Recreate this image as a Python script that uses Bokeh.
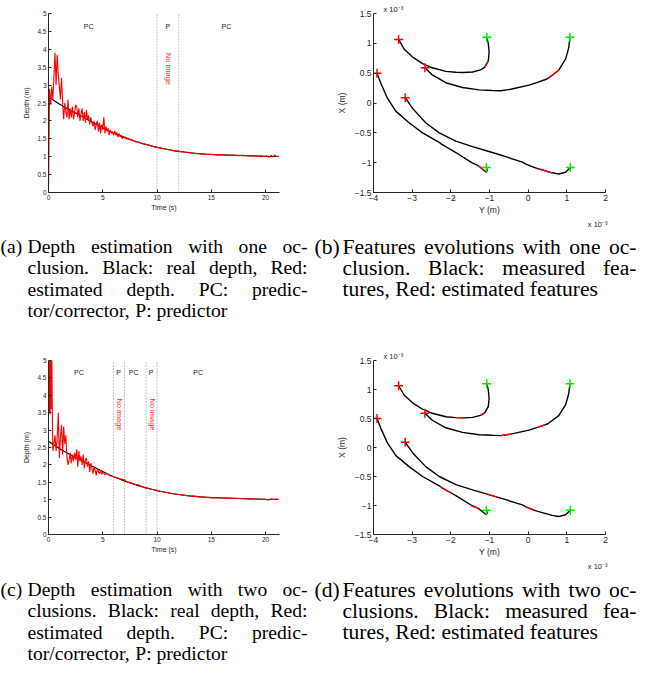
import math
from bokeh.plotting import figure
from bokeh.layouts import column, row
from bokeh.models import Range1d, FixedTicker, Title
from bokeh.core.properties import value
from bokeh.embed import file_html
from bokeh.resources import INLINE

# ---------------- data ----------------
# real depth (black), shared by (a) and (c)
t_real = [0, 0.5, 1, 1.5, 2, 2.5, 3, 3.5, 4, 4.5, 5, 5.5, 6, 6.5, 7, 7.5, 8, 8.5, 9, 9.5,
          10, 10.5, 11, 11.5, 12, 12.5, 13, 13.5, 14, 14.5, 15, 16, 17, 18, 19, 20, 21.2]
d_real = [2.68, 2.57, 2.47, 2.38, 2.30, 2.22, 2.14, 2.05, 1.97, 1.89, 1.81, 1.73, 1.66, 1.60,
          1.54, 1.48, 1.43, 1.38, 1.34, 1.30, 1.26, 1.23, 1.20, 1.17, 1.15, 1.13, 1.11, 1.095,
          1.08, 1.07, 1.06, 1.05, 1.04, 1.03, 1.02, 1.01, 1.005]

# estimated depth (red), one occlusion (a)
t_est_a = [0.0, 0.1, 0.2, 0.3, 0.4, 0.5, 0.6, 0.7, 0.8, 0.9, 1.0, 1.1, 1.2, 1.3, 1.4, 1.5, 1.6,
           1.7, 1.8, 1.9, 2.0, 2.1, 2.2, 2.3, 2.4, 2.5, 2.6, 2.7, 2.8, 2.9, 3.0, 3.1, 3.2, 3.3,
           3.4, 3.5, 3.6, 3.7, 3.8, 3.9, 4.0, 4.1, 4.2, 4.3, 4.4, 4.5, 4.6, 4.7, 4.8, 4.9, 5.0,
           5.1, 5.2, 5.3, 5.4, 5.5, 5.6, 5.7, 5.8, 5.9, 6.0, 6.1, 6.2, 6.3, 6.4, 6.5, 6.6, 6.7,
           6.8, 6.9, 7.0, 7.1, 7.2, 7.3, 7.4, 7.5, 7.6, 7.7, 7.8, 7.9, 8.0,
           8.3, 8.6, 9.0, 9.4, 9.8, 10.2, 10.6, 11.0, 11.5, 12.0, 12.5, 13.0, 13.5, 14.0, 14.5,
           15.0, 15.5, 16.0, 16.5, 17.0, 17.5, 18.0, 18.5, 19.0, 19.3, 19.6, 19.9, 20.1, 20.3,
           20.5, 20.7, 20.9, 21.0, 21.2]
d_est_a = [0.0, 2.9, 2.45, 2.95, 2.6, 3.25, 3.9, 3.0, 3.85, 3.3, 2.95, 2.6, 3.2, 2.5, 2.05, 2.5,
           2.25, 2.1, 2.6, 2.05, 2.35, 2.1, 2.4, 2.05, 2.2, 2.45, 2.4, 2.1, 2.35, 2.0, 2.2, 2.35,
           2.0, 2.25, 1.95, 2.3, 2.05, 2.15, 1.9, 2.1, 1.95, 1.85, 2.0, 1.75, 1.9, 2.0, 1.7,
           1.95, 1.65, 1.9, 1.75, 2.1, 1.65, 1.85, 1.7, 1.8, 1.6, 1.75, 1.65, 1.7, 1.6, 1.72,
           1.6, 1.68, 1.55, 1.65, 1.55, 1.6, 1.5, 1.58, 1.52, 1.55, 1.48, 1.53, 1.47, 1.5, 1.46,
           1.48, 1.44, 1.45, 1.42,
           1.41, 1.37, 1.345, 1.31, 1.275, 1.25, 1.225, 1.20, 1.17, 1.15, 1.13, 1.115, 1.09,
           1.085, 1.07, 1.065, 1.05, 1.055, 1.04, 1.045, 1.03, 1.04, 1.02, 1.03, 1.01, 1.025,
           1.0, 1.03, 0.98, 1.04, 0.99, 1.05, 1.0, 1.02]

# estimated depth (red), two occlusions (c)
t_est_c = [0.0, 0.05, 0.1, 0.15, 0.2, 0.25, 0.3, 0.35, 0.4, 0.5, 0.6, 0.7, 0.8, 0.9, 1.0, 1.1,
           1.2, 1.3, 1.4, 1.5, 1.6, 1.7, 1.8, 1.9, 2.0, 2.1, 2.2, 2.3, 2.4, 2.5, 2.6, 2.7, 2.8,
           2.9, 3.0, 3.1, 3.2, 3.3, 3.4, 3.5, 3.6, 3.7, 3.8, 3.9, 4.0, 4.1, 4.2, 4.3, 4.4, 4.5,
           4.6, 4.7, 4.8, 4.9, 5.0, 5.2, 5.4, 5.6, 5.8, 6.0, 6.3, 6.6, 7.0, 7.2, 7.5, 8.0, 8.3,
           8.6, 9.0, 9.5, 10.0, 10.5, 11.0, 11.5, 12.0, 13.0, 14.0, 15.0, 15.5, 16.0, 16.5,
           17.0, 17.5, 18.0, 18.5, 19.0, 19.5, 20.0, 20.3, 20.5, 20.7, 21.0, 21.2]
d_est_c = [5.6, 3.5, 5.6, 3.45, 5.6, 3.6, 5.6, 3.5, 2.4, 2.6, 2.85, 2.4, 2.75, 3.5, 2.2, 2.8,
           3.15, 2.3, 3.1, 2.6, 2.85, 2.2, 2.0, 2.15, 2.35, 2.05, 2.3, 2.1, 2.35, 2.15, 2.45,
           1.95, 2.4, 2.1, 2.25, 2.0, 2.3, 1.9, 2.15, 2.2, 1.95, 2.1, 1.8, 2.05, 1.9, 1.75,
           1.95, 1.85, 1.7, 1.9, 1.8, 1.75, 1.85, 1.72, 1.8, 1.72, 1.76, 1.7, 1.68, 1.66, 1.63,
           1.6, 1.57, 1.52, 1.49, 1.44, 1.43, 1.38, 1.34, 1.30, 1.265, 1.23, 1.20, 1.17, 1.15,
           1.11, 1.08, 1.06, 1.055, 1.05, 1.045, 1.04, 1.035, 1.03, 1.025, 1.02, 1.015, 1.01,
           0.99, 1.03, 1.01, 1.02, 1.01]

# occlusion (predictor only) boundaries
occ_a = [10, 12]
occ_c = [6, 7, 9, 10]
phase_a = [("PC", 3.7), ("P", 11.0), ("PC", 16.4)]
phase_c = [("PC", 2.8), ("P", 6.45), ("PC", 7.85), ("P", 9.45), ("PC", 13.8)]
noimg_a = [11.05]
noimg_c = [6.55, 9.6]

# feature trajectories (units of 1e-3 m): horizontal = Y, vertical = X
traj_y = [
    [-3.35, -3.21, -2.99, -2.73, -2.48, -2.13, -1.87, -1.66, -1.44, -1.23, -1.12, -1.03, -1.01, -1.03, -1.07],
    [-2.67, -2.48, -2.13, -1.70, -1.27, -0.93, -0.71, -0.45, 0.02, 0.26, 0.43, 0.51, 0.79, 0.97, 1.05, 1.08],
    [-3.91, -3.81, -3.64, -3.42, -3.08, -2.73, -2.30, -2.24, -2.00, -1.87, -1.53, -1.46, -1.31, -1.27, -1.14, -1.08, -1.06, -1.08],
    [-3.18, -2.99, -2.65, -2.30, -1.87, -1.44, -1.08, -0.80, -0.58, -0.15, -0.07, 0.15, 0.25, 0.62, 0.79, 0.97, 1.09],
]
traj_x = [
    [1.065, 0.905, 0.77, 0.66, 0.59, 0.53, 0.515, 0.51, 0.52, 0.555, 0.60, 0.71, 0.85, 0.99, 1.10],
    [0.59, 0.47, 0.34, 0.26, 0.22, 0.21, 0.205, 0.23, 0.30, 0.35, 0.39, 0.41, 0.55, 0.74, 0.93, 1.10],
    [0.50, 0.33, 0.08, -0.14, -0.33, -0.50, -0.66, -0.69, -0.78, -0.83, -0.97, -1.00, -1.045, -1.06, -1.13, -1.16, -1.13, -1.08],
    [0.09, -0.09, -0.33, -0.50, -0.64, -0.73, -0.80, -0.855, -0.90, -0.99, -1.02, -1.08, -1.10, -1.17, -1.19, -1.16, -1.08],
]
# estimated (red) pieces as index ranges along each trajectory
red_b = [[(10, 11)], [(11, 12)], [(12, 14)], [(12, 13)]]
red_d = [[(6, 7), (9, 10)], [(6, 7), (9, 10)], [(7, 8), (11, 13)], [(6, 7), (10, 11)]]

# tick labels
depth_xticks = [0, 5, 10, 15, 20]
depth_yticks = [0, 0.5, 1, 1.5, 2, 2.5, 3, 3.5, 4, 4.5, 5]
feat_xticks = [-4, -3, -2, -1, 0, 1, 2]
feat_yticks = [-1.5, -1, -0.5, 0, 0.5, 1, 1.5]
scale_text = "x 10\u207b\u00b3"

captions = {
    "a": ["Depth estimation with one oc-", "clusion. Black: real depth, Red:",
          "estimated depth. PC: predic-", "tor/corrector, P: predictor"],
    "b": ["Features evolutions with one oc-", "clusion. Black: measured fea-",
          "tures, Red: estimated features"],
    "c": ["Depth estimation with two oc-", "clusions. Black: real depth, Red:",
          "estimated depth. PC: predic-", "tor/corrector, P: predictor"],
    "d": ["Features evolutions with two oc-", "clusions. Black: measured fea-",
          "tures, Red: estimated features"],
}

# ---------------- styling helpers ----------------
SANS = "Liberation Sans"
SERIF = "Liberation Serif"
AX = "#262626"


def fmt(v):
    s = ("%g" % v)
    return s.replace("-", "\u2212")


def style_axes(p, xt, yt, fs, label_fs, xlabel, ylabel, xstand, ystand):
    p.grid.visible = False
    p.outline_line_color = None
    p.background_fill_color = "white"
    p.border_fill_color = "white"
    for ax, ticks in ((p.xaxis[0], xt), (p.yaxis[0], yt)):
        ax.ticker = FixedTicker(ticks=ticks)
        ax.major_label_overrides = {t: fmt(t) for t in ticks}
        ax.major_tick_in = 3
        ax.major_tick_out = 0
        ax.minor_tick_line_color = None
        ax.axis_line_color = AX
        ax.major_tick_line_color = AX
        ax.major_label_text_color = AX
        ax.major_label_text_font = SANS
        ax.major_label_text_font_size = fs
        ax.major_label_standoff = 2
        ax.axis_label_text_font = SANS
        ax.axis_label_text_font_size = label_fs
        ax.axis_label_text_font_style = "normal"
        ax.axis_label_text_color = AX
    p.xaxis.axis_label = xlabel
    p.yaxis.axis_label = ylabel
    p.xaxis.axis_label_standoff = xstand
    p.yaxis.axis_label_standoff = ystand


def depth_panel(h, top, bottom, t_est, d_est, occ, phases, noimg):
    p = figure(width=314, height=h, x_range=Range1d(0, 21.29), y_range=Range1d(0, 5),
               output_backend="svg", toolbar_location=None,
               min_border_left=48, min_border_right=35, min_border_top=top,
               min_border_bottom=bottom)
    style_axes(p, depth_xticks, depth_yticks, "6.5px", "7px", "Time (s)", "Depth (m)", 1, 4)
    for t in occ:
        p.line([t, t], [0, 5], line_color="#8a8a8a", line_width=1, line_dash="1 2")
    p.line(t_real, d_real, line_color="black", line_width=1.1)
    p.line(t_est, d_est, line_color="#ff0000", line_width=1.1)
    p.text(x=[ph[1] for ph in phases], y=[4.65] * len(phases), text=[ph[0] for ph in phases],
           text_font=value(SANS), text_font_size="7px", text_color="#222222",
           text_align="center", text_baseline="middle")
    p.text(x=noimg, y=[3.45] * len(noimg), text=["No image"] * len(noimg), angle=-math.pi / 2,
           text_font=value(SANS), text_font_size="7.5px", text_color="#ff3030",
           text_align="center", text_baseline="middle")
    return p


def feature_panel(h, top, bottom, reds):
    p = figure(width=322, height=h, x_range=Range1d(-4, 2), y_range=Range1d(-1.5, 1.5),
               output_backend="svg", toolbar_location=None,
               min_border_left=59, min_border_right=31, min_border_top=top,
               min_border_bottom=bottom)
    style_axes(p, feat_xticks, feat_yticks, "8.5px", "8.5px", "Y (m)", "X (m)", 1, 5)
    for ys, xs, rr in zip(traj_y, traj_x, reds):
        p.line(ys, xs, line_color="black", line_width=1.4)
        for a, b in rr:
            p.line(ys[a:b + 1], xs[a:b + 1], line_color="#ff0000", line_width=1.4)
    p.scatter([ys[0] for ys in traj_y], [xs[0] for xs in traj_x], marker="cross", size=9,
              line_color="#ff0000", line_width=1.5)
    p.scatter([ys[-1] for ys in traj_y], [xs[-1] for xs in traj_x], marker="cross", size=9,
              line_color="#00ee00", line_width=1.5)
    p.add_layout(Title(text=scale_text, align="left", offset=10, standoff=0,
                       text_font=SANS, text_font_size="7.5px", text_font_style="normal",
                       text_color=AX), "above")
    p.add_layout(Title(text=scale_text, align="right", offset=-2, standoff=0,
                       text_font=SANS, text_font_size="7.5px", text_font_style="normal",
                       text_color=AX), "below")
    return p


# Times-Roman advance widths (per 1000 em) for justification
TW = {" ": 250, "(": 333, ")": 333, ".": 250, ",": 250, ":": 278, "-": 333, "/": 278,
      "a": 444, "b": 500, "c": 444, "d": 500, "e": 444, "f": 333, "g": 500, "h": 500,
      "i": 278, "j": 278, "k": 500, "l": 278, "m": 778, "n": 500, "o": 500, "p": 500,
      "q": 500, "r": 333, "s": 389, "t": 278, "u": 500, "v": 500, "w": 722, "x": 500,
      "y": 500, "z": 444, "B": 667, "C": 667, "D": 722, "F": 556, "P": 556, "R": 667}


def tw(s, fs):
    return sum(TW.get(c, 500) for c in s) / 1000.0 * fs


def caption_fig(h, y0, blocks):
    p = figure(width=636, height=h, x_range=Range1d(8, 644), y_range=Range1d(y0 + h, y0),
               output_backend="svg", toolbar_location=None, x_axis_type=None,
               y_axis_type=None, min_border=0)
    p.grid.visible = False
    p.outline_line_color = None
    for tag, fs, lx, x0, x1, yb, lines in blocks:
        xs, ys, ts = [lx], [yb], ["(%s)" % tag]
        for i, line in enumerate(lines):
            y = yb + i * 21.3
            words = line.split(" ")
            if i < len(lines) - 1:
                total = sum(tw(w, fs) for w in words)
                gap = (x1 - x0 - total) / (len(words) - 1)
            else:
                gap = tw(" ", fs)
            x = x0
            for w in words:
                xs.append(x); ys.append(y); ts.append(w)
                x += tw(w, fs) + gap
        p.text(x=xs, y=ys, text=ts, text_font=value(SERIF), text_font_size="%gpx" % fs,
               text_color="black", text_align="left", text_baseline="alphabetic")
    return p


fa = depth_panel(228, 13, 32, t_est_a, d_est_a, occ_a, phase_a, noimg_a)
fb = feature_panel(228, 13, 34, red_b)
fc = depth_panel(248, 38, 28, t_est_c, d_est_c, occ_c, phase_c, noimg_c)
fd = feature_panel(248, 37, 29, red_d)

cap1 = caption_fig(94, 236, [("a", 19.6, 8, 35, 315, 254, captions["a"]),
                             ("b", 21.6, 322, 350, 644, 254, captions["b"])])
cap2 = caption_fig(98, 578, [("c", 19.6, 8, 35, 315, 597, captions["c"]),
                             ("d", 21.6, 322, 350, 644, 597, captions["d"])])

layout = column(row(fa, fb), cap1, row(fc, fd), cap2)
open("out.html", "w").write(file_html(layout, INLINE))
